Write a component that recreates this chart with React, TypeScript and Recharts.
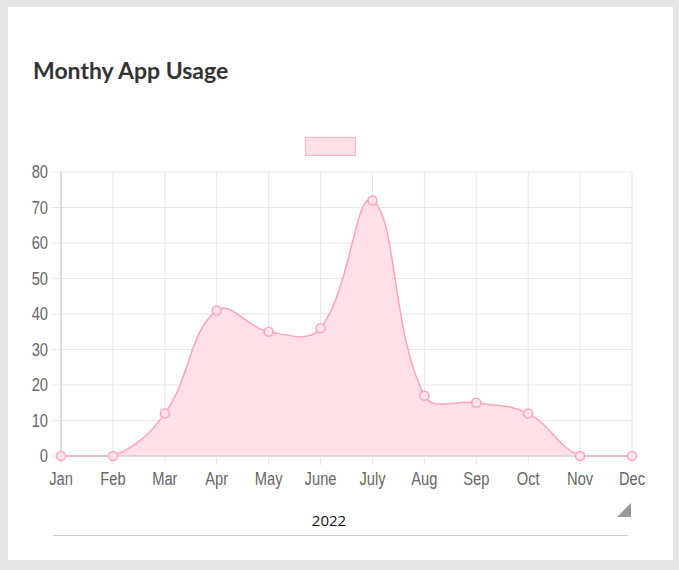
import React from "react";
import { AreaChart, Area, XAxis, YAxis, CartesianGrid } from "recharts";

const months = ["Jan", "Feb", "Mar", "Apr", "May", "June", "July", "Aug", "Sep", "Oct", "Nov", "Dec"];
const usage = [0, 0, 12, 41, 35, 36, 72, 17, 15, 12, 0, 0];
const yTicks = [0, 10, 20, 30, 40, 50, 60, 70, 80];

const data = months.map((m, i) => ({ month: m, value: usage[i] }));

const MARGIN = { top: 172, right: 47, left: 0, bottom: 0 };
const CHART_H = 500;
const X_AXIS_H = 44;
const PLOT_TOP = MARGIN.top;
const PLOT_BOTTOM = CHART_H - MARGIN.bottom - X_AXIS_H;

// Chart.js style spline (tension 0.4) with control points capped to the plot area
function makeSplineCurve(top: number, bottom: number, tension = 0.4) {
  return function (context: any) {
    let xs: number[] = [];
    let ys: number[] = [];
    let line: number = NaN;
    const capY = (y: number) => Math.max(top, Math.min(bottom, y));
    return {
      areaStart() { line = 0; },
      areaEnd() { line = NaN; },
      lineStart() { xs = []; ys = []; },
      point(x: number, y: number) { xs.push(+x); ys.push(+y); },
      lineEnd() {
        const n = xs.length;
        if (n) {
          if (line) context.lineTo(xs[0], ys[0]);
          else context.moveTo(xs[0], ys[0]);
          if (n === 2) {
            context.lineTo(xs[1], ys[1]);
          } else if (n > 2) {
            const c1x: number[] = [], c1y: number[] = [], c2x: number[] = [], c2y: number[] = [];
            for (let i = 0; i < n; i++) {
              const px = i > 0 ? xs[i - 1] : xs[i];
              const py = i > 0 ? ys[i - 1] : ys[i];
              const nx = i < n - 1 ? xs[i + 1] : xs[i];
              const ny = i < n - 1 ? ys[i + 1] : ys[i];
              const d01 = Math.hypot(xs[i] - px, ys[i] - py);
              const d12 = Math.hypot(nx - xs[i], ny - ys[i]);
              const sum = d01 + d12;
              const s01 = sum ? d01 / sum : 0;
              const s12 = sum ? d12 / sum : 0;
              const fa = tension * s01;
              const fb = tension * s12;
              c1x[i] = xs[i] - fa * (nx - px);
              c1y[i] = capY(ys[i] - fa * (ny - py));
              c2x[i] = xs[i] + fb * (nx - px);
              c2y[i] = capY(ys[i] + fb * (ny - py));
            }
            for (let i = 1; i < n; i++) {
              context.bezierCurveTo(c2x[i - 1], c2y[i - 1], c1x[i], c1y[i], xs[i], ys[i]);
            }
          }
        }
        if (line || (line !== 0 && n === 1)) context.closePath();
        line = 1 - line;
      },
    };
  };
}

const curve = makeSplineCurve(PLOT_TOP, PLOT_BOTTOM);

const TICK_FONT = "'Liberation Sans', Arial, Helvetica, sans-serif";

function makeTick(dy: string) {
  return function NarrowTick(props: any) {
    const { x, y, payload, textAnchor } = props;
    return (
      <text
        x={0}
        y={0}
        dy={dy}
        textAnchor={textAnchor}
        transform={`translate(${x},${y}) scale(0.84,1)`}
        fill="#666"
        fontSize={17.5}
        fontFamily={TICK_FONT}
      >
        {payload.value}
      </text>
    );
  };
}

const XTick = makeTick("0.71em");
const YTick = makeTick("0.355em");

export default function App() {
  return (
    <div style={{ position: "absolute", left: 0, top: 0, width: 679, height: 570, background: "#e5e5e5", overflow: "hidden" }}>
      <div style={{ position: "absolute", left: 8, top: 7, width: 665, height: 553, background: "#fff" }} />
      <div
        style={{
          position: "absolute",
          left: 33,
          top: 59,
          fontFamily: "Lato, 'Open Sans', sans-serif",
          fontWeight: 700,
          fontSize: 23,
          lineHeight: "23px",
          color: "#333",
          whiteSpace: "nowrap",
        }}
      >
        Monthy App Usage
      </div>
      <div
        style={{
          position: "absolute",
          left: 305,
          top: 137,
          width: 51,
          height: 19,
          boxSizing: "border-box",
          background: "#ffe0e6",
          border: "1px solid #ffb3c3",
        }}
      />
      <div style={{ position: "absolute", left: 0, top: 0 }}>
        <AreaChart width={679} height={CHART_H} data={data} margin={MARGIN}>
          <CartesianGrid stroke="#e6e6e6" strokeWidth={1} />
          <XAxis
            dataKey="month"
            height={X_AXIS_H}
            tick={<XTick />}
            tickSize={9}
            tickMargin={8}
            tickLine={{ stroke: "#e6e6e6" }}
            axisLine={{ stroke: "#c4c4c4" }}
            interval={0}
          />
          <YAxis
            width={61}
            domain={[0, 80]}
            ticks={yTicks}
            tick={<YTick />}
            tickSize={10}
            tickMargin={3}
            tickLine={{ stroke: "#e6e6e6" }}
            axisLine={{ stroke: "#c4c4c4" }}
            interval={0}
          />
          <Area
            type={curve as any}
            dataKey="value"
            stroke="#ffa3b6"
            strokeWidth={1.5}
            fill="#ffe0e6"
            fillOpacity={1}
            isAnimationActive={false}
            dot={{ r: 4.5, fill: "#ffe4ea", stroke: "#ffa3b6", strokeWidth: 1.5 }}
            activeDot={false}
          />
        </AreaChart>
      </div>
      <div
        style={{
          position: "absolute",
          left: 229,
          width: 200,
          top: 511,
          textAlign: "center",
          fontFamily: "'Open Sans', sans-serif",
          fontSize: 15,
          lineHeight: "18px",
          color: "#111",
        }}
      >
        2022
      </div>
      <div style={{ position: "absolute", left: 617, top: 503, width: 0, height: 0, borderLeft: "14px solid transparent", borderBottom: "14px solid #999" }} />
      <div style={{ position: "absolute", left: 53, top: 535, width: 575, height: 1, background: "#cfcfcf" }} />
    </div>
  );
}
